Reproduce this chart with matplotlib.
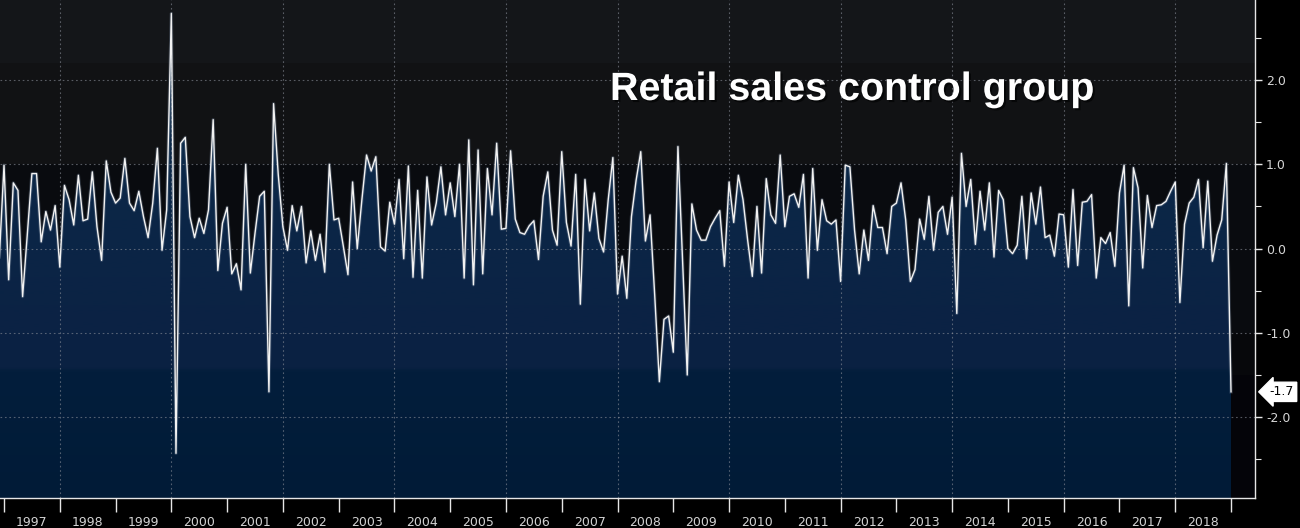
import numpy as np
import matplotlib
matplotlib.use("Agg")
import matplotlib.pyplot as plt
from matplotlib.colors import LinearSegmentedColormap
import matplotlib.patheffects as pe

# monthly % change, retail sales control group, Nov 1996 .. Dec 2018
first_month = (1996, 11)
mom_change = [
    -0.10, 0.99,
    -0.37, 0.78, 0.69, -0.57, 0.16, 0.89, 0.89, 0.08, 0.44, 0.22, 0.51, -0.22,   # 1997
    0.75, 0.58, 0.28, 0.87, 0.33, 0.35, 0.91, 0.26, -0.14, 1.04, 0.67, 0.54,     # 1998
    0.60, 1.07, 0.54, 0.45, 0.68, 0.38, 0.13, 0.54, 1.19, -0.02, 0.46, 2.79,     # 1999
    -2.43, 1.25, 1.32, 0.38, 0.13, 0.36, 0.18, 0.46, 1.53, -0.26, 0.30, 0.49,    # 2000
    -0.30, -0.18, -0.49, 1.00, -0.29, 0.18, 0.62, 0.68, -1.70, 1.72, 0.88, 0.26, # 2001
    -0.02, 0.51, 0.21, 0.50, -0.17, 0.21, -0.14, 0.17, -0.28, 1.00, 0.34, 0.36,  # 2002
    0.03, -0.31, 0.79, 0.00, 0.58, 1.11, 0.92, 1.09, 0.02, -0.03, 0.55, 0.29,    # 2003
    0.82, -0.12, 0.98, -0.34, 0.69, -0.35, 0.85, 0.28, 0.54, 0.97, 0.40, 0.78,   # 2004
    0.38, 1.00, -0.35, 1.29, -0.43, 1.17, -0.30, 0.95, 0.40, 1.25, 0.23, 0.24,   # 2005
    1.16, 0.35, 0.19, 0.17, 0.27, 0.33, -0.13, 0.62, 0.91, 0.22, 0.04, 1.15,     # 2006
    0.31, 0.03, 0.88, -0.66, 0.82, 0.21, 0.66, 0.12, -0.04, 0.58, 1.08, -0.54,   # 2007
    -0.09, -0.59, 0.38, 0.81, 1.15, 0.09, 0.40, -0.55, -1.58, -0.84, -0.80, -1.23, # 2008
    1.21, -0.15, -1.50, 0.53, 0.22, 0.10, 0.10, 0.26, 0.36, 0.45, -0.21, 0.79,   # 2009
    0.31, 0.87, 0.58, 0.10, -0.33, 0.50, -0.29, 0.83, 0.40, 0.30, 1.11, 0.26,    # 2010
    0.62, 0.65, 0.49, 0.88, -0.35, 0.95, -0.02, 0.58, 0.33, 0.29, 0.34, -0.39,   # 2011
    0.99, 0.97, 0.22, -0.30, 0.22, -0.14, 0.51, 0.25, 0.25, -0.06, 0.50, 0.54,   # 2012
    0.78, 0.34, -0.39, -0.25, 0.35, 0.11, 0.62, -0.02, 0.43, 0.50, 0.17, 0.61,   # 2013
    -0.77, 1.13, 0.50, 0.82, 0.05, 0.68, 0.22, 0.78, -0.10, 0.69, 0.58, 0.00,    # 2014
    -0.06, 0.04, 0.62, -0.12, 0.66, 0.29, 0.73, 0.13, 0.16, -0.09, 0.41, 0.40,   # 2015
    -0.22, 0.70, -0.20, 0.55, 0.56, 0.64, -0.35, 0.13, 0.06, 0.19, -0.21, 0.66,  # 2016
    0.99, -0.68, 0.96, 0.72, -0.23, 0.63, 0.25, 0.51, 0.52, 0.56, 0.68, 0.79,    # 2017
    -0.64, 0.29, 0.54, 0.61, 0.82, 0.01, 0.80, -0.15, 0.16, 0.34, 1.01, -1.70,   # 2018
]
year_labels = list(range(1997, 2019))
ytick_values = [-2.0, -1.0, 0.0, 1.0, 2.0]
last_label = "-1.7"
title = "Retail sales control group"

# month-end positions in fractional years
yr0, m0 = first_month
t = np.array([yr0 + (m0 + i) / 12.0 for i in range(len(mom_change))])
v = np.array(mom_change)

ylo, yhi = -2.96, 2.95
xlo, xhi = 1996.928, 2019.43

fig = plt.figure(figsize=(13, 5.28), dpi=100, facecolor="black")
ax = fig.add_axes([0, 30 / 528, 1255 / 1300, 498 / 528])
ax.set_xlim(xlo, xhi)
ax.set_ylim(ylo, yhi)

# background bands
for lo, hi, c in [(2.2, 3.2, "#141619"), (1.0, 2.2, "#111214"), (-1.0, 1.0, "#090b0f"),
                  (-1.5, -1.0, "#07080b"), (-3.2, -1.5, "#040409")]:
    ax.axhspan(lo, hi, color=c, lw=0, zorder=0)

# gradient area fill under the line
stops = [(-2.96, "#011b37"), (-1.46, "#031e3c"), (-1.42, "#0a2142"), (-1.0, "#0b2244"),
         (0.0, "#0b2546"), (1.0, "#0b2848"), (2.95, "#12324f")]
cmap = LinearSegmentedColormap.from_list(
    "fill", [((s - ylo) / (yhi - ylo), c) for s, c in stops])
grad = np.linspace(0, 1, 600).reshape(-1, 1)
poly = ax.fill_between(t, v, ylo, facecolor="none", edgecolor="none")
img = ax.imshow(grad, extent=[xlo, xhi, ylo, yhi], origin="lower", aspect="auto",
                cmap=cmap, zorder=1, interpolation="bilinear")
img.set_clip_path(poly.get_paths()[0], transform=ax.transData)

# dotted grid
for yv in ytick_values:
    ax.axhline(yv, color="#8a8f99", alpha=0.6, lw=0.8, ls=(0, (1.5, 2.5)), zorder=2)
for yr in range(1998, 2019, 2):
    ax.axvline(yr, color="#8a8f99", alpha=0.6, lw=0.8, ls=(0, (1.5, 2.5)), zorder=2)

# the series
ax.plot(t, v, color="#6f7f95", lw=2.4, alpha=0.35, zorder=3)
ax.plot(t, v, color="#f2f2f2", lw=1.0, zorder=4)

# spines
for s in ["left", "top"]:
    ax.spines[s].set_visible(False)
for s in ["right", "bottom"]:
    ax.spines[s].set_color("#e6e6e6")
    ax.spines[s].set_linewidth(1.0)
    ax.spines[s].set_zorder(5)

# y axis on the right
ax.yaxis.tick_right()
ax.set_yticks(ytick_values)
ax.set_yticklabels([f"{y:.1f}" for y in ytick_values])
ax.set_yticks(np.arange(-2.5, 3.0, 1.0), minor=True)
ax.tick_params(axis="y", which="major", length=5, width=1, color="#e6e6e6",
               labelcolor="#d6d6d6", labelsize=9, pad=3)
ax.tick_params(axis="y", which="minor", length=4, width=0.8, color="#e6e6e6")

# x axis: boundaries as ticks, year names centred
ax.set_xticks(range(1997, 2020))
ax.set_xticklabels([])
ax.set_xticks([y + 0.5 for y in year_labels], minor=True)
ax.set_xticklabels([str(y) for y in year_labels], minor=True)
ax.tick_params(axis="x", which="major", length=10, width=1, color="#e6e6e6")
ax.tick_params(axis="x", which="minor", length=0, labelcolor="#d2d2d2",
               labelsize=9, pad=13)

# last value tag
ax.annotate(last_label, xy=(1.0, v[-1]), xycoords=("axes fraction", "data"),
            xytext=(19, 0), textcoords="offset points", ha="center", va="center",
            fontsize=9, color="black", annotation_clip=False,
            bbox=dict(boxstyle="larrow,pad=0.25", fc="white", ec="white"))

# headline
fig.text(610 / 1300, 1 - 100 / 528, title, fontsize=28.4, fontweight="bold",
         family="Liberation Sans", color="white", va="baseline", ha="left",
         path_effects=[pe.withSimplePatchShadow(offset=(1.5, -1.5), shadow_rgbFace="black", alpha=0.6)])

fig.savefig("out.png", dpi=100, facecolor="black")
